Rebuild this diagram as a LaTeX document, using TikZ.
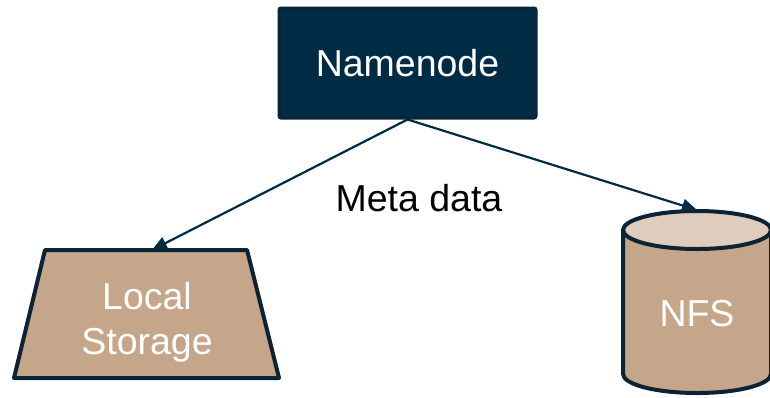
\documentclass[tikz,border=0pt]{standalone}
\usepackage{fontspec}
\setmainfont{Liberation Sans}
\usetikzlibrary{arrows.meta}
\definecolor{navy}{HTML}{002B45}
\definecolor{navyedge}{HTML}{0C2336}
\definecolor{tan}{HTML}{C6A68A}
\definecolor{tanlight}{HTML}{DFCCBC}
\tikzset{
  bigtext/.style={font=\fontsize{37.5}{45}\selectfont},
  link/.style={draw=navy, line width=2.2pt, -{Triangle[length=15pt,width=13pt]}},
  storeedge/.style={draw=navyedge, line width=4pt, line join=round},
}
\begin{document}
\begin{tikzpicture}[x=1pt,y=-1pt]
\useasboundingbox (0,0) rectangle (770,397);
\clip (0,0) rectangle (770,397);

% Namenode box
\node[draw=navyedge, fill=navy, line width=3pt, rounded corners=2pt,
      minimum width=257pt, minimum height=110pt, inner sep=0pt,
      text=white, bigtext] (nn) at (407.5,63) {Namenode};

% Local storage trapezoid
\filldraw[fill=tan, storeedge] (45,250) -- (247,250) -- (279,378) -- (14,378) -- cycle;
\node[text=white, bigtext, align=center] (ls) at (147,322) {Local\\Storage};
\coordinate (lstop) at (152,250);

% NFS cylinder
\filldraw[fill=tan, storeedge] (623,230) -- (623,374) arc[start angle=180, end angle=360, x radius=74, y radius=-19] -- (771,230) -- cycle;
\filldraw[fill=tanlight, storeedge] (697,230) ellipse[x radius=74, y radius=19];
\node[text=white, bigtext] (nfs) at (697,314) {NFS};
\coordinate (nfstop) at (697,210);

% Connectors
\draw[link] (nn.south) -- (lstop);
\draw[link] (nn.south) -- (nfstop);
\node[bigtext, text=black] (meta) at (419,198) {Meta data};
\end{tikzpicture}
\end{document}
